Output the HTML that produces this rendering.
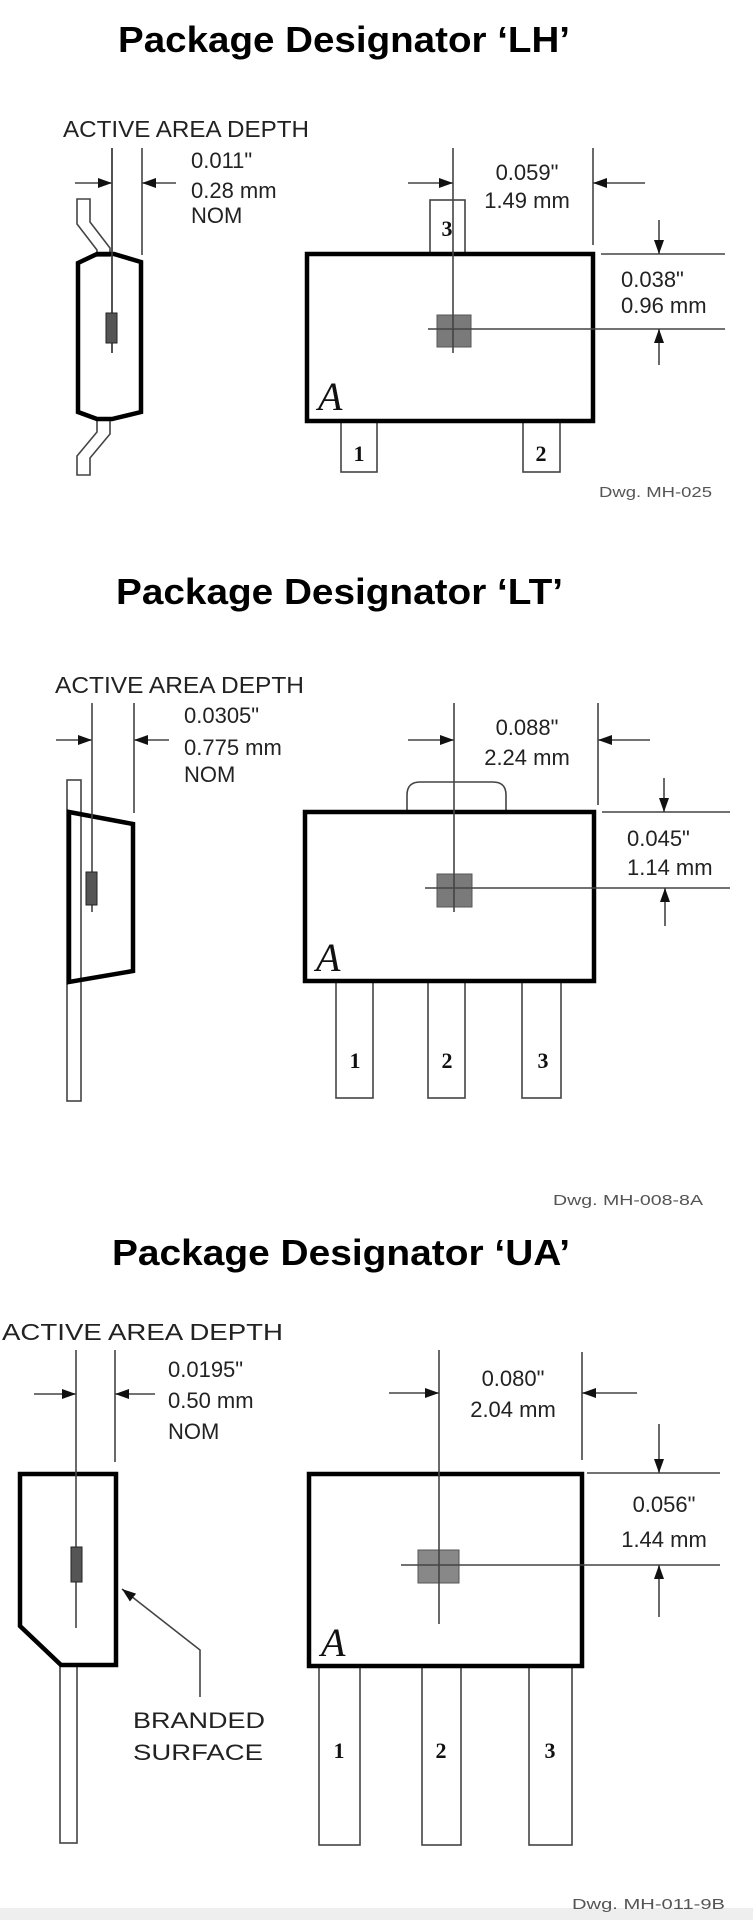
<!DOCTYPE html>
<html><head><meta charset="utf-8"><style>
html,body{margin:0;padding:0;background:#fff;}
svg{display:block;}
text{font-family:"Liberation Sans",Arial,sans-serif;fill:#222;}
.t{font-weight:bold;font-size:36px;fill:#000;}
.l{font-size:23px;}
.d{font-size:22px;}
.s{font-size:15px;fill:#555;}
.p{font-family:"Liberation Serif",serif;font-weight:bold;font-size:22px;fill:#111;}
.a{font-family:"Liberation Serif",serif;font-style:italic;font-size:40px;fill:#111;}
.dim{stroke:#444;stroke-width:1.6;fill:none;}
.body{stroke:#000;stroke-width:4.5;fill:none;stroke-linejoin:miter;}
.pin{stroke:#444;stroke-width:1.6;fill:#fff;}
</style></head><body>
<svg width="753" height="1920" viewBox="0 0 753 1920" xmlns="http://www.w3.org/2000/svg">
<defs>
<marker id="ar" markerWidth="14" markerHeight="10" refX="14" refY="5" orient="auto" markerUnits="userSpaceOnUse">
<path d="M0,0 L14,5 L0,10 Z" fill="#111"/></marker>
</defs>
<rect x="0" y="1908" width="753" height="12" fill="#eeeeee"/>

<!-- ===== LH ===== -->
<text class="t" x="118" y="52" textLength="452" lengthAdjust="spacingAndGlyphs">Package Designator ‘LH’</text>
<text class="l" x="63" y="137" textLength="246" lengthAdjust="spacingAndGlyphs">ACTIVE AREA DEPTH</text>
<line class="dim" x1="112" y1="148" x2="112" y2="353"/>
<line class="dim" x1="142" y1="148" x2="142" y2="255"/>
<line class="dim" x1="75" y1="183" x2="112" y2="183" marker-end="url(#ar)"/>
<line class="dim" x1="176" y1="183" x2="142" y2="183" marker-end="url(#ar)"/>
<text class="d" x="191" y="168">0.011"</text>
<text class="d" x="191" y="198">0.28 mm</text>
<text class="d" x="191" y="223">NOM</text>
<path class="pin" d="M77,199 L90,199 L90,222 L110,248 L110,256 L97,256 L97,250 L77,224 Z"/>
<path class="pin" d="M97,418 L110,418 L110,434 L90,458 L90,475 L77,475 L77,456 L97,432 Z"/>
<path class="body" d="M78,263 L97,254 L114,254 L141,262 L141,412 L112,419 L97,419 L78,412 Z" fill="#fff"/>
<line class="dim" x1="112" y1="148" x2="112" y2="353"/>
<rect x="106" y="313" width="11" height="30" fill="#555" stroke="#222" stroke-width="1"/>

<rect class="pin" x="430" y="200" width="35" height="53"/>
<text class="p" x="447" y="236" text-anchor="middle">3</text>
<rect class="pin" x="341" y="422" width="36" height="50"/>
<rect class="pin" x="523" y="422" width="37" height="50"/>
<text class="p" x="359" y="461" text-anchor="middle">1</text>
<text class="p" x="541" y="461" text-anchor="middle">2</text>
<rect class="body" x="307" y="254" width="286" height="167"/>
<rect x="437" y="315" width="34" height="32" fill="#7a7a7a" stroke="#555"/>
<line class="dim" x1="453" y1="148" x2="453" y2="353"/>
<line class="dim" x1="428" y1="329" x2="725" y2="329"/>
<line class="dim" x1="593" y1="148" x2="593" y2="245"/>
<line class="dim" x1="408" y1="183" x2="453" y2="183" marker-end="url(#ar)"/>
<line class="dim" x1="645" y1="183" x2="593" y2="183" marker-end="url(#ar)"/>
<text class="d" x="527" y="180" text-anchor="middle">0.059"</text>
<text class="d" x="527" y="208" text-anchor="middle">1.49 mm</text>
<line class="dim" x1="601" y1="254" x2="725" y2="254"/>
<line class="dim" x1="659" y1="220" x2="659" y2="254" marker-end="url(#ar)"/>
<line class="dim" x1="659" y1="365" x2="659" y2="329" marker-end="url(#ar)"/>
<text class="d" x="621" y="287">0.038"</text>
<text class="d" x="621" y="313">0.96 mm</text>
<text class="a" x="318" y="410">A</text>
<text class="s" x="599" y="497" textLength="113" lengthAdjust="spacingAndGlyphs">Dwg. MH-025</text>

<!-- ===== LT ===== -->
<text class="t" x="116" y="604" textLength="447" lengthAdjust="spacingAndGlyphs">Package Designator ‘LT’</text>
<text class="l" x="55" y="693" textLength="249" lengthAdjust="spacingAndGlyphs">ACTIVE AREA DEPTH</text>
<line class="dim" x1="134" y1="703" x2="134" y2="813"/>
<line class="dim" x1="56" y1="740" x2="92" y2="740" marker-end="url(#ar)"/>
<line class="dim" x1="169" y1="740" x2="134" y2="740" marker-end="url(#ar)"/>
<text class="d" x="184" y="723">0.0305"</text>
<text class="d" x="184" y="755">0.775 mm</text>
<text class="d" x="184" y="782">NOM</text>
<rect class="pin" x="67" y="780" width="14" height="321"/>
<path class="body" d="M69,812 L133,824 L133,971 L69,982 Z" fill="#fff"/>
<line class="dim" x1="92" y1="703" x2="92" y2="912"/>
<rect x="86" y="872" width="11" height="33" fill="#555" stroke="#222" stroke-width="1"/>

<path class="pin" d="M407,812 L407,795 Q407,782 420,782 L493,782 Q506,782 506,795 L506,812"/>
<rect class="pin" x="336" y="981" width="37" height="117"/>
<rect class="pin" x="428" y="981" width="37" height="117"/>
<rect class="pin" x="522" y="981" width="39" height="117"/>
<text class="p" x="355" y="1068" text-anchor="middle">1</text>
<text class="p" x="447" y="1068" text-anchor="middle">2</text>
<text class="p" x="543" y="1068" text-anchor="middle">3</text>
<rect class="body" x="305" y="812" width="289" height="169"/>
<rect x="437" y="874" width="35" height="33" fill="#7a7a7a" stroke="#555"/>
<line class="dim" x1="454" y1="703" x2="454" y2="912"/>
<line class="dim" x1="425" y1="888" x2="730" y2="888"/>
<line class="dim" x1="598" y1="703" x2="598" y2="805"/>
<line class="dim" x1="408" y1="740" x2="454" y2="740" marker-end="url(#ar)"/>
<line class="dim" x1="650" y1="740" x2="598" y2="740" marker-end="url(#ar)"/>
<text class="d" x="527" y="735" text-anchor="middle">0.088"</text>
<text class="d" x="527" y="765" text-anchor="middle">2.24 mm</text>
<line class="dim" x1="602" y1="812" x2="730" y2="812"/>
<line class="dim" x1="664" y1="778" x2="664" y2="812" marker-end="url(#ar)"/>
<line class="dim" x1="665" y1="926" x2="665" y2="888" marker-end="url(#ar)"/>
<text class="d" x="627" y="846">0.045"</text>
<text class="d" x="627" y="875">1.14 mm</text>
<text class="a" x="316" y="971">A</text>
<text class="s" x="553" y="1205" textLength="150" lengthAdjust="spacingAndGlyphs">Dwg. MH-008-8A</text>

<!-- ===== UA ===== -->
<text class="t" x="112" y="1265" textLength="458" lengthAdjust="spacingAndGlyphs">Package Designator ‘UA’</text>
<text class="l" x="2" y="1340" textLength="281" lengthAdjust="spacingAndGlyphs">ACTIVE AREA DEPTH</text>
<line class="dim" x1="115" y1="1350" x2="115" y2="1462"/>
<line class="dim" x1="34" y1="1394" x2="76" y2="1394" marker-end="url(#ar)"/>
<line class="dim" x1="155" y1="1394" x2="115" y2="1394" marker-end="url(#ar)"/>
<text class="d" x="168" y="1377">0.0195"</text>
<text class="d" x="168" y="1408">0.50 mm</text>
<text class="d" x="168" y="1439">NOM</text>
<rect class="pin" x="60" y="1666" width="17" height="177"/>
<path class="body" d="M20,1474 L116,1474 L116,1665 L61,1665 L20,1626 Z" fill="#fff"/>
<line class="dim" x1="76" y1="1350" x2="76" y2="1628"/>
<rect x="71" y="1547" width="11" height="35" fill="#555" stroke="#222" stroke-width="1"/>
<path class="dim" d="M200,1697 L200,1650 L122,1589" stroke="#111" marker-end="url(#ar)"/>
<text class="d" x="133" y="1728" textLength="132" lengthAdjust="spacingAndGlyphs">BRANDED</text>
<text class="d" x="133" y="1760" textLength="130" lengthAdjust="spacingAndGlyphs">SURFACE</text>

<rect class="pin" x="319" y="1667" width="41" height="178"/>
<rect class="pin" x="422" y="1667" width="39" height="178"/>
<rect class="pin" x="529" y="1667" width="43" height="178"/>
<text class="p" x="339" y="1758" text-anchor="middle">1</text>
<text class="p" x="441" y="1758" text-anchor="middle">2</text>
<text class="p" x="550" y="1758" text-anchor="middle">3</text>
<rect class="body" x="309" y="1474" width="273" height="192"/>
<rect x="418" y="1550" width="41" height="33" fill="#888" stroke="#555"/>
<line class="dim" x1="439" y1="1350" x2="439" y2="1624"/>
<line class="dim" x1="401" y1="1565" x2="720" y2="1565"/>
<line class="dim" x1="582" y1="1352" x2="582" y2="1460"/>
<line class="dim" x1="389" y1="1393" x2="439" y2="1393" marker-end="url(#ar)"/>
<line class="dim" x1="637" y1="1393" x2="582" y2="1393" marker-end="url(#ar)"/>
<text class="d" x="513" y="1386" text-anchor="middle">0.080"</text>
<text class="d" x="513" y="1417" text-anchor="middle">2.04 mm</text>
<line class="dim" x1="587" y1="1473" x2="720" y2="1473"/>
<line class="dim" x1="659" y1="1424" x2="659" y2="1473" marker-end="url(#ar)"/>
<line class="dim" x1="659" y1="1617" x2="659" y2="1565" marker-end="url(#ar)"/>
<text class="d" x="664" y="1512" text-anchor="middle">0.056"</text>
<text class="d" x="664" y="1547" text-anchor="middle">1.44 mm</text>
<text class="a" x="321" y="1656">A</text>
<text class="s" x="572" y="1909" textLength="153" lengthAdjust="spacingAndGlyphs">Dwg. MH-011-9B</text>
</svg>
</body></html>
